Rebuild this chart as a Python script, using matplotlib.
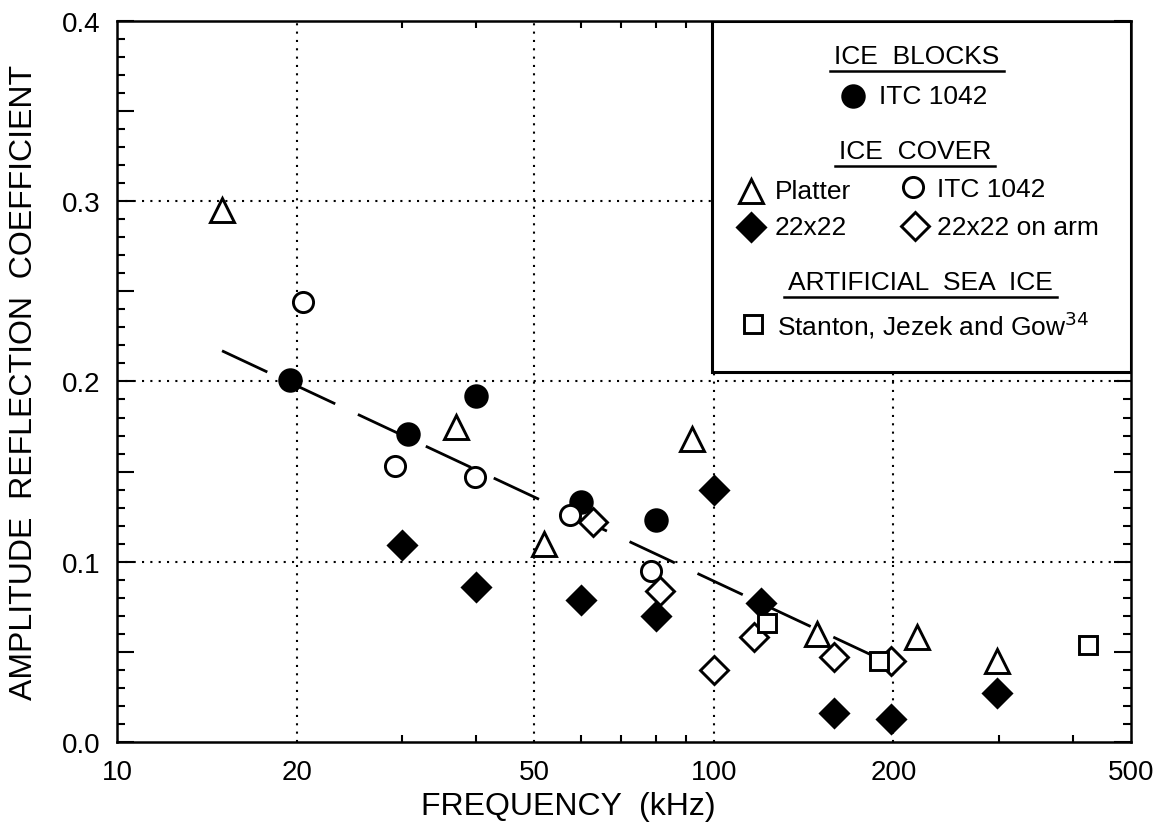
import numpy as np
import matplotlib
matplotlib.use('Agg')
import matplotlib.pyplot as plt
from matplotlib.ticker import FixedLocator, FuncFormatter, NullFormatter

plt.rcParams['font.family'] = ['Liberation Sans', 'DejaVu Sans']
plt.rcParams['axes.linewidth'] = 1.8

# ice blocks, ITC 1042 (filled circles)
blk_f = [19.5, 30.7, 40, 60, 80]
blk_r = [0.201, 0.171, 0.192, 0.133, 0.123]
# ice cover, platter (open triangles)
plat_f = [15.0, 37, 52, 92, 149, 219, 298]
plat_r = [0.295, 0.175, 0.110, 0.168, 0.060, 0.058, 0.045]
# ice cover, ITC 1042 (open circles)
itc_f = [20.5, 29.2, 39.8, 57.4, 78.5]
itc_r = [0.244, 0.153, 0.147, 0.126, 0.095]
# ice cover, 22x22 (filled diamonds)
d22_f = [30, 40, 60, 80, 100, 120, 159, 198, 298]
d22_r = [0.109, 0.086, 0.079, 0.070, 0.140, 0.077, 0.016, 0.013, 0.027]
# ice cover, 22x22 on arm (open diamonds)
arm_f = [62.8, 81.4, 100, 116.7, 159, 198]
arm_r = [0.122, 0.084, 0.040, 0.058, 0.047, 0.045]
# artificial sea ice, Stanton, Jezek and Gow (open squares)
sjg_f = [123, 189, 423]
sjg_r = [0.066, 0.045, 0.054]
# fitted line
fit_f = [15, 190]
fit_r = [0.217, 0.046]

xticks = [10, 20, 50, 100, 200, 500]
xminor = [30, 40, 60, 70, 80, 90, 300, 400]
xgrid = [20, 50, 100, 200]
ygrid = [0.1, 0.2, 0.3]

fig = plt.figure(figsize=(11.59, 8.28), dpi=100)
ax = fig.add_axes([0.1009, 0.1027, 0.8749, 0.8708])
ax.set_xscale('log')
ax.set_xlim(10, 500)
ax.set_ylim(0, 0.4)

for g in xgrid:
    ax.axvline(g, color='black', lw=1.5, ls=(0, (1, 3)), zorder=1)
for g in ygrid:
    ax.axhline(g, color='black', lw=1.5, ls=(0, (1, 3)), zorder=1)

ax.xaxis.set_major_locator(FixedLocator(xticks))
ax.xaxis.set_minor_locator(FixedLocator(xminor))
ax.xaxis.set_major_formatter(FuncFormatter(lambda v, p: '%d' % v))
ax.xaxis.set_minor_formatter(NullFormatter())
ax.yaxis.set_major_locator(FixedLocator(np.arange(0, 0.41, 0.05)))
ax.yaxis.set_minor_locator(FixedLocator(np.arange(0, 0.41, 0.01)))
ax.yaxis.set_major_formatter(FuncFormatter(
    lambda v, p: '%.1f' % v if abs(v * 10 - round(v * 10)) < 1e-6 else ''))
ax.tick_params(which='both', direction='in', top=True, right=True,
               labelsize=20, width=1.5)
ax.tick_params(axis='y', which='major', length=12, pad=12)
ax.tick_params(axis='y', which='minor', length=6)
ax.tick_params(axis='x', which='major', length=0, pad=12)
ax.tick_params(axis='x', which='minor', length=5)

ax.plot(fit_f, fit_r, color='black', lw=2.0, dashes=(18, 9), zorder=2)

ms_kw = dict(ls='none', color='black', mew=2.1, zorder=4)
ax.plot(blk_f, blk_r, marker='o', ms=15.5, **ms_kw)
ax.plot(plat_f, plat_r, marker='^', ms=17, mfc='white', **ms_kw)
ax.plot(itc_f, itc_r, marker='o', ms=14.5, mfc='white', **ms_kw)
ax.plot(d22_f, d22_r, marker='D', ms=14.5, **ms_kw)
ax.plot(arm_f, arm_r, marker='D', ms=14.5, mfc='white', **ms_kw)
ax.plot(sjg_f, sjg_r, marker='s', ms=13, mfc='white', **ms_kw)

ax.set_xlabel('FREQUENCY  (kHz)', fontsize=23)
ax.xaxis.set_label_coords(0.445, -0.068)
ax.set_ylabel('AMPLITUDE  REFLECTION  COEFFICIENT', fontsize=23)
ax.yaxis.set_label_coords(-0.077, 0.5)

# legend box
box = plt.Rectangle((0.587, 0.513), 0.413, 0.487, transform=ax.transAxes,
                    facecolor='white', edgecolor='black', lw=2.2, zorder=5)
ax.add_patch(box)

tkw = dict(transform=ax.transAxes, fontsize=19, zorder=6, va='center')
heads = []
heads.append(ax.text(0.789, 0.951, 'ICE  BLOCKS', ha='center', **tkw))
heads.append(ax.text(0.787, 0.820, 'ICE  COVER', ha='center', **tkw))
heads.append(ax.text(0.792, 0.638, 'ARTIFICIAL  SEA  ICE', ha='center', **tkw))
ax.text(0.752, 0.896, 'ITC 1042', ha='left', **tkw)
ax.text(0.649, 0.764, 'Platter', ha='left', **tkw)
ax.text(0.809, 0.767, 'ITC 1042', ha='left', **tkw)
ax.text(0.649, 0.714, '22x22', ha='left', **tkw)
ax.text(0.809, 0.714, '22x22 on arm', ha='left', **tkw)
ax.text(0.651, 0.580, 'Stanton, Jezek and Gow$^{34}$', ha='left', **tkw)

lkw = dict(transform=ax.transAxes, ls='none', color='black', mew=2.1,
           zorder=6, clip_on=False)
ax.plot([0.726], [0.896], marker='o', ms=15.5, **lkw)
ax.plot([0.625], [0.764], marker='^', ms=17, mfc='white', **lkw)
ax.plot([0.785], [0.770], marker='o', ms=14.5, mfc='white', **lkw)
ax.plot([0.625], [0.714], marker='D', ms=14.5, **lkw)
ax.plot([0.787], [0.716], marker='D', ms=14.5, mfc='white', **lkw)
ax.plot([0.627], [0.580], marker='s', ms=13, mfc='white', **lkw)

# underline the headings
fig.canvas.draw()
inv = ax.transAxes.inverted()
for t in heads:
    bb = t.get_window_extent()
    (x0, y0), (x1, y1) = inv.transform([[bb.x0, bb.y0], [bb.x1, bb.y1]])
    ax.plot([x0 - 0.004, x1 + 0.004], [y0 - 0.004, y0 - 0.004], color='black',
            lw=1.8, transform=ax.transAxes, zorder=6, clip_on=False)

fig.savefig('out.png', dpi=100)
